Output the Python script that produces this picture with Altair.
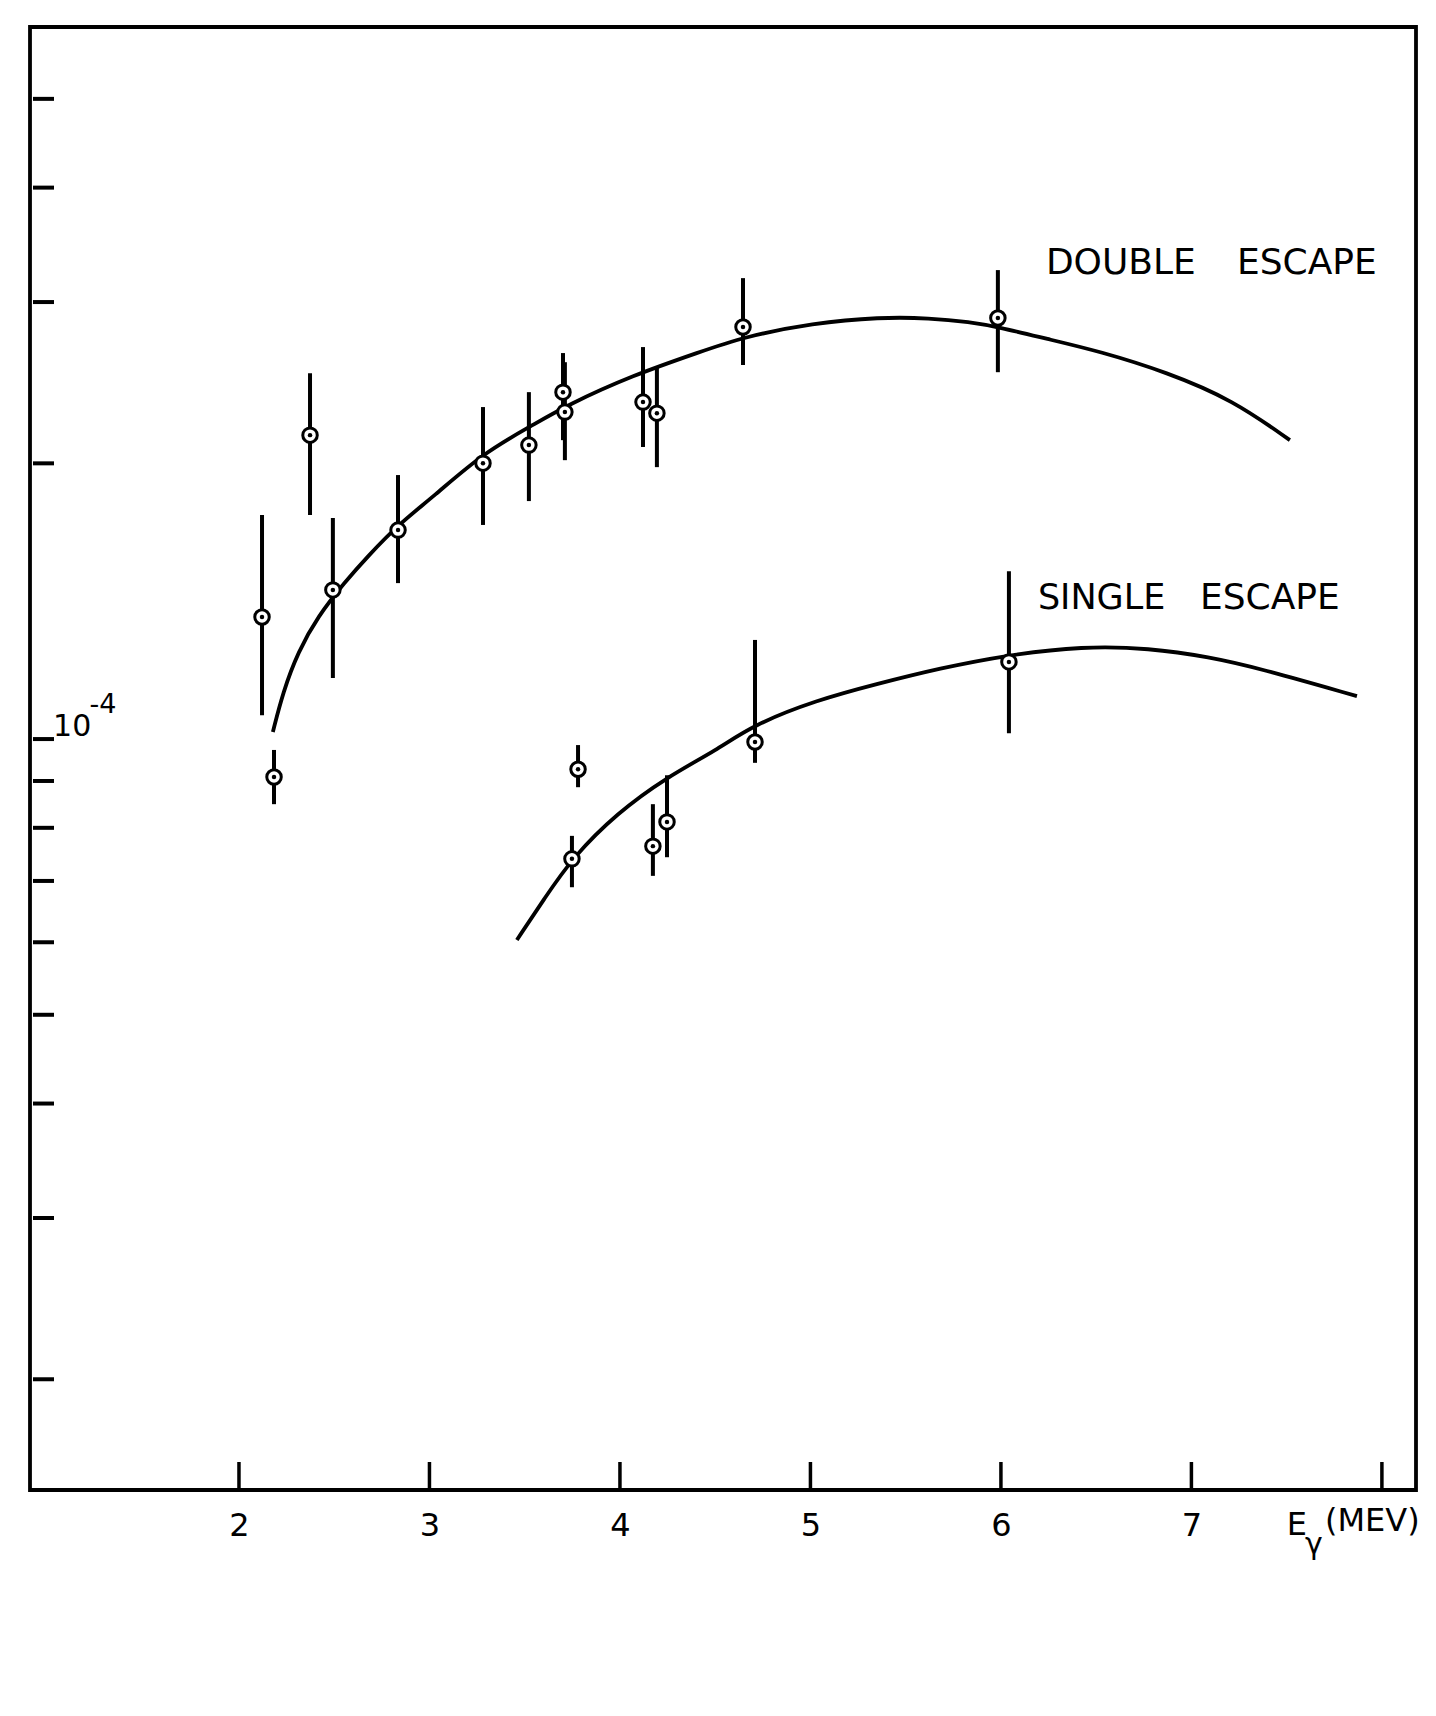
import altair as alt
import pandas as pd

# Yields in units of 1e-4, gamma energies in MeV
de_energy = [2.121, 2.373, 2.493, 2.835, 3.281, 3.522, 3.701, 3.711, 4.121, 4.194, 4.646, 5.984, 2.184]
de_value = [1.359, 2.147, 1.455, 1.691, 2.001, 2.094, 2.392, 2.275, 2.333, 2.269, 2.818, 2.882, 0.909]
de_low = [1.062, 1.756, 1.166, 1.480, 1.713, 1.819, 2.120, 2.016, 2.084, 1.981, 2.561, 2.515, 0.849]
de_high = [1.756, 2.509, 1.743, 1.942, 2.304, 2.392, 2.639, 2.579, 2.679, 2.548, 3.186, 3.251, 0.973]

se_energy = [3.780, 3.748, 4.173, 4.247, 4.709, 6.042]
se_value = [0.927, 0.740, 0.764, 0.812, 0.9925, 1.214]
se_low = [0.886, 0.689, 0.709, 0.743, 0.942, 1.015]
se_high = [0.985, 0.784, 0.849, 0.913, 1.283, 1.525]

# Smooth fitted curves
de_curve_e = [2.178, 2.231, 2.310, 2.415, 2.556, 2.672, 2.845, 3.018, 3.281, 3.543, 3.722, 4.068,
              4.420, 4.646, 5.013, 5.365, 5.627, 5.837, 5.984, 6.241, 6.520, 6.871, 7.218, 7.517]
de_curve_v = [1.018, 1.125, 1.245, 1.362, 1.484, 1.580, 1.721, 1.837, 2.052, 2.202, 2.315, 2.496,
              2.646, 2.747, 2.845, 2.889, 2.882, 2.853, 2.818, 2.735, 2.650, 2.515, 2.345, 2.120]
se_curve_e = [3.459, 3.606, 3.753, 3.984, 4.247, 4.509, 4.698, 5.034, 5.344, 5.680, 6.031, 6.430,
              6.777, 7.097, 7.354, 7.869]
se_curve_v = [0.6035, 0.671, 0.743, 0.830, 0.909, 0.973, 1.036, 1.103, 1.148, 1.195, 1.235, 1.263,
              1.257, 1.229, 1.195, 1.114]

x_ticks = [2, 3, 4, 5, 6, 7, 8]
x_labels = [2, 3, 4, 5, 6, 7]
y_ticks = [0.2, 0.3, 0.4, 0.5, 0.6, 0.7, 0.8, 0.9, 1, 2, 3, 4, 5]

W, H = 1386, 1463
FONT = "DejaVu Sans"

points = pd.DataFrame({
    "e": de_energy + se_energy,
    "v": de_value + se_value,
    "lo": de_low + se_low,
    "hi": de_high + se_high,
})
curves = pd.concat([
    pd.DataFrame({"e": de_curve_e, "v": de_curve_v, "s": "double"}),
    pd.DataFrame({"e": se_curve_e, "v": se_curve_v, "s": "single"}),
])
xt = pd.DataFrame({"e": x_ticks})
yt = pd.DataFrame({"v": y_ticks})

# annotation text, with position (energy, yield) and font size
labels = pd.DataFrame([
    {"t": "DOUBLE", "e": 6.236, "v": 3.309, "fs": 36},
    {"t": "ESCAPE", "e": 7.239, "v": 3.309, "fs": 36},
    {"t": "SINGLE", "e": 6.194, "v": 1.425, "fs": 35},
    {"t": "ESCAPE", "e": 7.045, "v": 1.425, "fs": 36},
    {"t": "10", "e": 1.024, "v": 1.031, "fs": 30},
    {"t": "-4", "e": 1.215, "v": 1.090, "fs": 27},
    {"t": "E", "e": 7.501, "v": 0.1386, "fs": 32},
    {"t": "γ", "e": 7.596, "v": 0.1318, "fs": 30},
    {"t": "(MEV)", "e": 7.701, "v": 0.1400, "fs": 32},
])

xscale = alt.Scale(domain=[0.903, 8.179], nice=False, zero=False)
yscale = alt.Scale(type="log", domain=[0.1514, 5.99], nice=False)
xaxis = alt.Axis(values=x_labels, format="d", labelFontSize=32, labelFont=FONT,
                 labelColor="black", tickSize=0, domain=False, grid=False,
                 labelPadding=20, title=None)

X = lambda f: alt.X(f, type="quantitative", scale=xscale, axis=xaxis)
Y = lambda f: alt.Y(f, type="quantitative", scale=yscale, axis=None)

curve_layer = alt.Chart(curves).mark_line(
    color="black", strokeWidth=3.8, interpolate="basis"
).encode(x=X("e"), y=Y("v"), detail="s:N")

bars = alt.Chart(points).mark_rule(color="black", strokeWidth=4).encode(
    x=X("e"), y=Y("lo"), y2="hi"
)

rings = alt.Chart(points).mark_point(
    shape="circle", size=210, filled=True, fill="white", stroke="black",
    strokeWidth=3, opacity=1
).encode(x=X("e"), y=Y("v"))

dots = alt.Chart(points).mark_circle(size=20, color="black", opacity=1).encode(
    x=X("e"), y=Y("v")
)

xtick_layer = alt.Chart(xt).mark_rule(color="black", strokeWidth=3.5).encode(
    x=X("e"), y=alt.value(H), y2=alt.value(H - 28)
)

ytick_layer = alt.Chart(yt).mark_rule(color="black", strokeWidth=4).encode(
    y=Y("v"), x=alt.value(3), x2=alt.value(24)
)

text_layer = alt.Chart(labels).mark_text(
    align="left", baseline="middle", font=FONT, color="black"
).encode(
    x=X("e"), y=Y("v"), text="t:N", size=alt.Size("fs:Q", scale=None, legend=None)
)

chart = alt.layer(
    curve_layer, bars, rings, dots, xtick_layer, ytick_layer, text_layer
).properties(
    width=W, height=H,
    padding={"left": 30, "top": 27, "right": 20, "bottom": 200},
    autosize=alt.AutoSizeParams(type="none"),
    background="white",
).configure_view(stroke="black", strokeWidth=3.8)

chart.save("out.html", embed_options={"renderer": "svg", "actions": False})
